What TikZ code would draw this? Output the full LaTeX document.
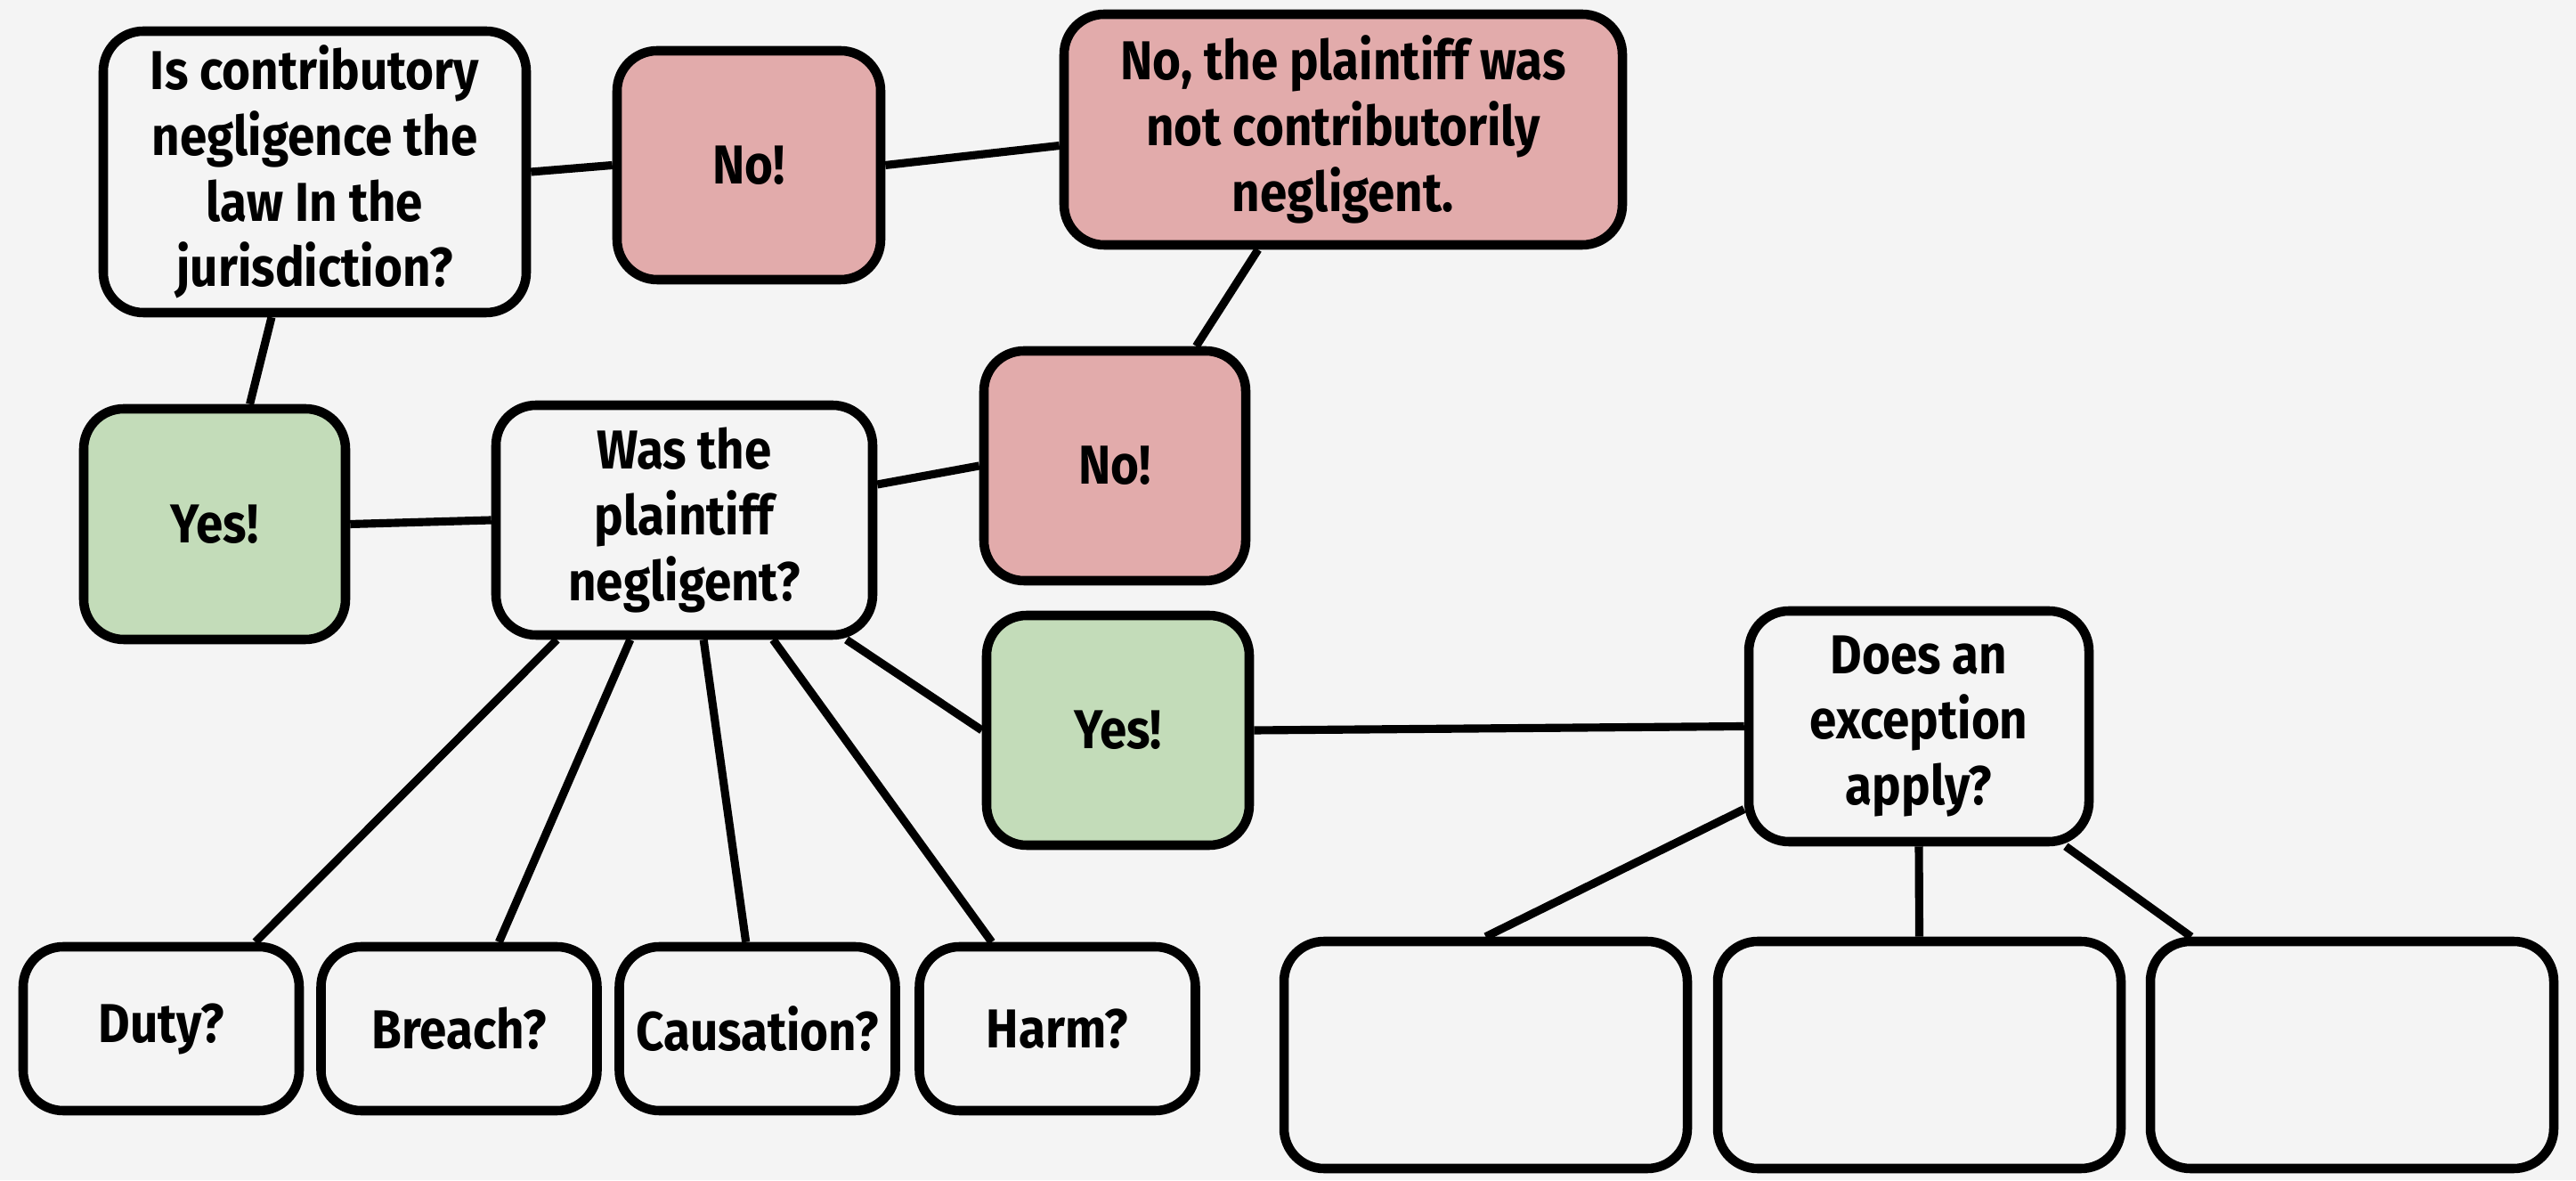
\documentclass[tikz,border=0pt]{standalone}
\usepackage{fontspec}
\setmainfont{Fira Sans}[FakeStretch=0.89]
\definecolor{paper}{HTML}{F4F4F4}
\definecolor{rose}{HTML}{E2ABAB}
\definecolor{sage}{HTML}{C3DCB9}
\usetikzlibrary{calc, positioning}

\tikzset{
  box/.style={draw=black, line width=3pt, rounded corners=0.45cm, fill=paper,
    align=center, inner sep=0pt, font=\fontsize{17.5}{21}\selectfont\bfseries},
  nobox/.style={box, fill=rose},
  yesbox/.style={box, fill=sage},
  link/.style={line width=2.6pt},
}

\begin{document}
\begin{tikzpicture}
  \useasboundingbox (0,0) rectangle (28.93,13.25);
  \fill[paper] (0,0) rectangle (28.93,13.25);

  % top row
  \node[box, minimum width=4.75cm, minimum height=3.16cm] (law) at (3.535,11.32)
    {Is contributory\\negligence the\\law In the\\jurisdiction?};
  \node[nobox, minimum width=2.96cm, minimum height=2.57cm] (noa) at (8.41,11.395) {No!};
  \node[nobox, minimum width=6.27cm, minimum height=2.59cm] (notneg) at (15.085,11.795)
    {No, the plaintiff was\\not contributorily\\negligent.};

  % middle row
  \node[yesbox, minimum width=2.94cm, minimum height=2.59cm] (yesa) at (2.41,7.365) {Yes!};
  \node[box, minimum width=4.23cm, minimum height=2.58cm] (was) at (7.685,7.41)
    {Was the\\plaintiff\\negligent?};
  \node[nobox, minimum width=2.94cm, minimum height=2.58cm] (nob) at (12.52,8.02) {No!};
  \node[yesbox, minimum width=2.95cm, minimum height=2.58cm] (yesb) at (12.555,5.05) {Yes!};
  \node[box, minimum width=3.82cm, minimum height=2.59cm] (exc) at (21.55,5.095)
    {Does an\\exception\\apply?};

  % bottom row
  \foreach \name/\x/\txt in {duty/1.81/Duty?, breach/5.155/Breach?,
      caus/8.505/Causation?, harm/11.875/Harm?}
    \node[box, minimum width=3.1cm, minimum height=1.84cm] (\name) at (\x,1.70) {\txt};
  \foreach \name/\x in {outa/16.685, outb/21.555, outc/26.415}
    \node[box, minimum width=4.53cm, minimum height=2.55cm] (\name) at (\x,1.405) {};

  % connectors
  \draw[link] (law.east) -- (noa.west);
  \draw[link] (noa.east) -- ($(notneg.west)+(0,-0.18)$);
  \draw[link] ($(notneg.south west)!0.35!(notneg.south east)$) -- ($(nob.north west)!0.8!(nob.north east)$);
  \draw[link] ($(law.south west)!0.4!(law.south east)$) -- ($(yesa.north west)!0.63!(yesa.north east)$);
  \draw[link] (yesa.east) -- (was.west);
  \draw[link] ($(was.east)+(0,0.4)$) -- (nob.west);
  \draw[link] ($(was.south west)!0.92!(was.south east)$) -- (yesb.west);
  \draw[link] (yesb.east) -- (exc.west);
  \foreach \el/\from/\to in {duty/0.17/0.83, breach/0.36/0.64, caus/0.55/0.46, harm/0.73/0.27}
    \draw[link] ($(was.south west)!\from!(was.south east)$) -- ($(\el.north west)!\to!(\el.north east)$);
  \draw[link] ($(exc.west)+(0,-0.93)$) -- (outa.north);
  \draw[link] (exc.south) -- (outb.north);
  \draw[link] ($(exc.south west)!0.92!(exc.south east)$) -- ($(outc.north west)!0.11!(outc.north east)$);
\end{tikzpicture}
\end{document}
